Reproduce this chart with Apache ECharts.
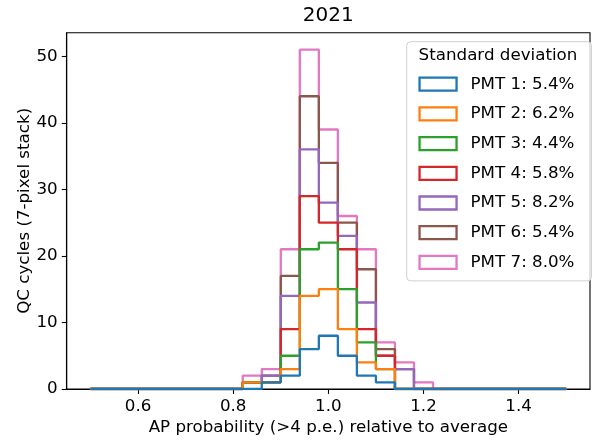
<!DOCTYPE html>
<html>
<head>
<meta charset="utf-8">
<script src="https://cdn.jsdelivr.net/npm/echarts@6/dist/echarts.min.js"></script>
<style>
html, body { margin: 0; padding: 0; background: #fff; }
#chart { width: 610px; height: 441px; }
</style>
</head>
<body>
<div id="chart"></div>
<script>
// Histogram bin edges (25 bins of width 0.04 from 0.50 to 1.50)
const binEdges = [0.50, 0.54, 0.58, 0.62, 0.66, 0.70, 0.74, 0.78, 0.82, 0.86,
                  0.90, 0.94, 0.98, 1.02, 1.06, 1.10, 1.14, 1.18, 1.22, 1.26,
                  1.30, 1.34, 1.38, 1.42, 1.46, 1.50];

// Per-PMT counts in each bin (stacked in the plot)
const pmt1 = [0,0,0,0,0,0,0,0, 0,1,2,6,8,5,2,1,0,0, 0,0,0,0,0,0,0];
const pmt2 = [0,0,0,0,0,0,0,0, 1,0,1,8,7,4,2,2,0,0, 0,0,0,0,0,0,0];
const pmt3 = [0,0,0,0,0,0,0,0, 0,0,2,7,7,6,3,0,0,0, 0,0,0,0,0,0,0];
const pmt4 = [0,0,0,0,0,0,0,0, 0,0,4,8,3,6,2,2,0,0, 0,0,0,0,0,0,0];
const pmt5 = [0,0,0,0,0,0,0,0, 0,1,5,7,3,2,4,0,3,0, 0,0,0,0,0,0,0];
const pmt6 = [0,0,0,0,0,0,0,0, 0,0,3,8,6,2,5,1,0,0, 0,0,0,0,0,0,0];
const pmt7 = [0,0,0,0,0,0,0,0, 1,1,4,7,5,1,3,1,1,1, 0,0,0,0,0,0,0];

const seriesNames = ['PMT 1: 5.4%', 'PMT 2: 6.2%', 'PMT 3: 4.4%', 'PMT 4: 5.8%',
                     'PMT 5: 8.2%', 'PMT 6: 5.4%', 'PMT 7: 8.0%'];
const colors = ['#1f77b4', '#ff7f0e', '#2ca02c', '#d62728', '#9467bd', '#8c564b', '#e377c2'];

const xTicks = [0.6, 0.8, 1.0, 1.2, 1.4];
const yTicks = [0, 10, 20, 30, 40, 50];

const titleText = '2021';
const xName = 'AP probability (>4 p.e.) relative to average';
const yName = 'QC cycles (7-pixel stack)';
const legendTitle = 'Standard deviation';

const allCounts = [pmt1, pmt2, pmt3, pmt4, pmt5, pmt6, pmt7];

// Build stacked step outlines
const cum = new Array(binEdges.length - 1).fill(0);
const series = allCounts.map((counts, s) => {
  const data = [];
  for (let i = 0; i < counts.length; i++) {
    cum[i] += counts[i];
    data.push([binEdges[i], cum[i]]);
  }
  data.push([binEdges[binEdges.length - 1], cum[counts.length - 1]]);
  return {
    name: seriesNames[s],
    type: 'line',
    step: 'end',
    data: data,
    symbol: 'none',
    z: 20 - s,
    lineStyle: { color: colors[s], width: 2.3 },
    itemStyle: { color: colors[s] },
    emphasis: { disabled: true },
    animation: false
  };
});

const FONT = 'DejaVu Sans';
const FS = 16.7;

const chart = echarts.init(document.getElementById('chart'), null, { renderer: 'canvas' });
chart.setOption({
  animation: false,
  backgroundColor: '#ffffff',
  textStyle: { fontFamily: FONT },
  title: [
    {
      text: titleText,
      left: 328.3, top: 6, textAlign: 'center', padding: 0,
      textStyle: { fontFamily: FONT, fontSize: 20, fontWeight: 'normal', color: '#000' }
    },
    {
      text: legendTitle,
      left: 498, top: 47.5, textAlign: 'center', padding: 0, z: 10,
      textStyle: { fontFamily: FONT, fontSize: FS, fontWeight: 'normal', color: '#000' }
    }
  ],
  grid: {
    left: 66.7, right: 20, top: 32.7, bottom: 51.7,
    show: true, borderColor: '#000', borderWidth: 1.1, backgroundColor: 'transparent'
  },
  legend: {
    orient: 'vertical',
    left: 406.7, top: 41.7,
    padding: [34, 17, 10, 11.7],
    itemWidth: 37, itemHeight: 13, itemGap: 12.7,
    backgroundColor: 'rgba(255,255,255,0.8)',
    borderColor: '#d0d0d0', borderWidth: 1, borderRadius: 4,
    selectedMode: false,
    icon: 'rect',
    data: seriesNames.map((n, i) => ({
      name: n,
      icon: 'rect',
      itemStyle: { color: '#ffffff', borderColor: colors[i], borderWidth: 2.3 }
    })),
    textStyle: { fontFamily: FONT, fontSize: FS, color: '#000', padding: [0, 0, 0, 9] }
  },
  xAxis: {
    type: 'value',
    min: 0.45, max: 1.55,
    name: xName, nameLocation: 'middle', nameGap: 30, nameMoveOverlap: false,
    nameTextStyle: { fontFamily: FONT, fontSize: FS, color: '#000' },
    axisLine: { show: true, onZero: false, lineStyle: { color: '#000', width: 1.1 } },
    axisTick: { show: true, length: 4.9, inside: false, customValues: xTicks, lineStyle: { color: '#000', width: 1.1 } },
    axisLabel: {
      customValues: xTicks, margin: 9,
      fontFamily: FONT, fontSize: FS, color: '#000',
      formatter: v => v.toFixed(1)
    },
    splitLine: { show: false }
  },
  yAxis: {
    type: 'value',
    min: 0, max: 53.55,
    name: yName, nameLocation: 'middle', nameGap: 34, nameMoveOverlap: false,
    nameTextStyle: { fontFamily: FONT, fontSize: FS, color: '#000' },
    axisLine: { show: true, onZero: false, lineStyle: { color: '#000', width: 1.1 } },
    axisTick: { show: true, length: 4.9, inside: false, customValues: yTicks, lineStyle: { color: '#000', width: 1.1 } },
    axisLabel: {
      customValues: yTicks, margin: 9,
      fontFamily: FONT, fontSize: FS, color: '#000',
      formatter: v => String(v)
    },
    splitLine: { show: false }
  },
  series: series
});
</script>
</body>
</html>
